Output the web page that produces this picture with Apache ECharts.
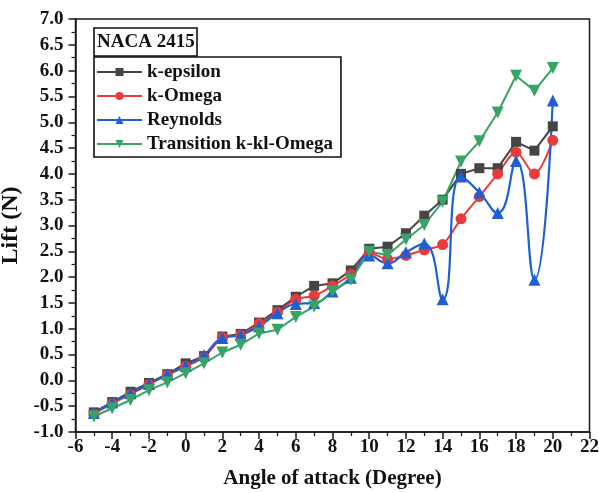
<!DOCTYPE html>
<html>
<head>
<meta charset="utf-8">
<script src="https://cdn.jsdelivr.net/npm/echarts@6/dist/echarts.min.js"></script>
<style>
  html, body { margin: 0; padding: 0; background: #fff; }
  #chart { width: 599px; height: 493px; }
</style>
</head>
<body>
<div id="chart"></div>
<script>
// Angle of attack (degrees)
const angles = [-5, -4, -3, -2, -1, 0, 1, 2, 3, 4, 5, 6, 7, 8, 9, 10, 11, 12, 13, 14, 15, 16, 17, 18, 19, 20];

// Lift (N) predicted by each turbulence model
const kEpsilon = [-0.62, -0.42, -0.22, -0.05, 0.12, 0.33, 0.47, 0.85, 0.90, 1.12, 1.36, 1.62, 1.83, 1.88, 2.13, 2.55, 2.59, 2.85, 3.19, 3.50, 4.00, 4.11, 4.11, 4.62, 4.45, 4.92];
const kOmega = [-0.65, -0.45, -0.27, -0.08, 0.10, 0.27, 0.45, 0.83, 0.88, 1.10, 1.32, 1.57, 1.64, 1.83, 2.06, 2.47, 2.35, 2.42, 2.53, 2.63, 3.13, 3.56, 4.00, 4.42, 4.00, 4.65];
const reynolds = [-0.63, -0.43, -0.25, -0.07, 0.12, 0.28, 0.49, 0.82, 0.88, 1.05, 1.30, 1.48, 1.50, 1.72, 1.99, 2.42, 2.27, 2.48, 2.65, 1.57, 3.95, 3.64, 3.24, 4.25, 1.95, 5.42];
const transition = [-0.70, -0.54, -0.38, -0.19, -0.04, 0.14, 0.33, 0.54, 0.69, 0.91, 0.98, 1.23, 1.43, 1.72, 1.95, 2.49, 2.43, 2.73, 3.01, 3.46, 4.24, 4.63, 5.19, 5.90, 5.61, 6.05];

const seriesNames = ['k-epsilon', 'k-Omega', 'Reynolds', 'Transition k-kl-Omega'];

const FONT = "'Liberation Serif', 'Times New Roman', serif";
const AXIS_COLOR = '#1a1a1a';

const pairs = ys => angles.map((a, i) => [a, ys[i]]);

const chart = echarts.init(document.getElementById('chart'), null, { renderer: 'canvas' });

chart.setOption({
  backgroundColor: '#fff',
  animation: false,
  title: {
    text: 'NACA 2415',
    left: 94,
    top: 28,
    padding: [4, 3, 3, 3],
    borderColor: '#111',
    borderWidth: 1.6,
    textStyle: { fontFamily: FONT, fontWeight: 'bold', fontSize: 19, color: '#111', lineHeight: 21 }
  },
  legend: {
    data: seriesNames,
    orient: 'vertical',
    left: 94,
    top: 57,
    width: 245,
    padding: [5, 8, 3, 2],
    itemGap: 4,
    itemWidth: 45,
    itemHeight: 10,
    borderColor: '#111',
    borderWidth: 1.6,
    textStyle: { fontFamily: FONT, fontWeight: 'bold', fontSize: 19, color: '#111', lineHeight: 20 }
  },
  grid: {
    left: 75.5,
    right: 9.5,
    top: 19,
    bottom: 61,
    outerBoundsMode: 'none',
    containLabel: false,
    show: true,
    borderColor: AXIS_COLOR,
    borderWidth: 1.5,
    backgroundColor: 'transparent'
  },
  xAxis: {
    type: 'value',
    min: -6,
    max: 22,
    interval: 2,
    name: 'Angle of attack (Degree)',
    nameLocation: 'middle',
    nameGap: 36,
    nameTextStyle: { fontFamily: FONT, fontWeight: 'bold', fontSize: 21, color: '#111' },
    axisLine: { show: true, onZero: false, lineStyle: { color: AXIS_COLOR, width: 1.5 } },
    axisTick: { show: true, inside: false, length: 7, lineStyle: { color: AXIS_COLOR, width: 1.5 } },
    minorTick: { show: true, splitNumber: 2, length: 4, lineStyle: { color: AXIS_COLOR, width: 1.2 } },
    splitLine: { show: false },
    axisLabel: { fontFamily: FONT, fontWeight: 'bold', fontSize: 19, color: '#111', margin: 6 }
  },
  yAxis: {
    type: 'value',
    min: -1,
    max: 7,
    interval: 0.5,
    name: 'Lift (N)',
    nameLocation: 'middle',
    nameGap: 50,
    nameTextStyle: { fontFamily: FONT, fontWeight: 'bold', fontSize: 24, color: '#111' },
    axisLine: { show: true, onZero: false, lineStyle: { color: AXIS_COLOR, width: 1.5 } },
    axisTick: { show: true, inside: false, length: 7, lineStyle: { color: AXIS_COLOR, width: 1.5 } },
    minorTick: { show: true, splitNumber: 2, length: 4, lineStyle: { color: AXIS_COLOR, width: 1.2 } },
    splitLine: { show: false },
    axisLabel: {
      fontFamily: FONT, fontWeight: 'bold', fontSize: 19, color: '#111', margin: 12,
      formatter: v => v.toFixed(1)
    }
  },
  series: [
    {
      name: seriesNames[0],
      type: 'line',
      data: pairs(kEpsilon),
      symbol: 'rect',
      symbolSize: 10,
      itemStyle: { color: '#454545' },
      lineStyle: { color: '#454545', width: 2 }
    },
    {
      name: seriesNames[1],
      type: 'line',
      data: pairs(kOmega),
      smooth: 0.3,
      symbol: 'circle',
      symbolSize: 11,
      itemStyle: { color: '#e83b3b' },
      lineStyle: { color: '#e83b3b', width: 2 }
    },
    {
      name: seriesNames[2],
      type: 'line',
      data: pairs(reynolds),
      smooth: 0.5,
      symbol: 'triangle',
      symbolSize: 12,
      itemStyle: { color: '#1f5fd4' },
      lineStyle: { color: '#1f5fd4', width: 2.2 }
    },
    {
      name: seriesNames[3],
      type: 'line',
      data: pairs(transition),
      symbol: 'path://M0,0 L10,0 L5,9 Z',
      symbolSize: 12,
      itemStyle: { color: '#35a466' },
      lineStyle: { color: '#35a466', width: 2 }
    }
  ]
});
</script>
</body>
</html>
